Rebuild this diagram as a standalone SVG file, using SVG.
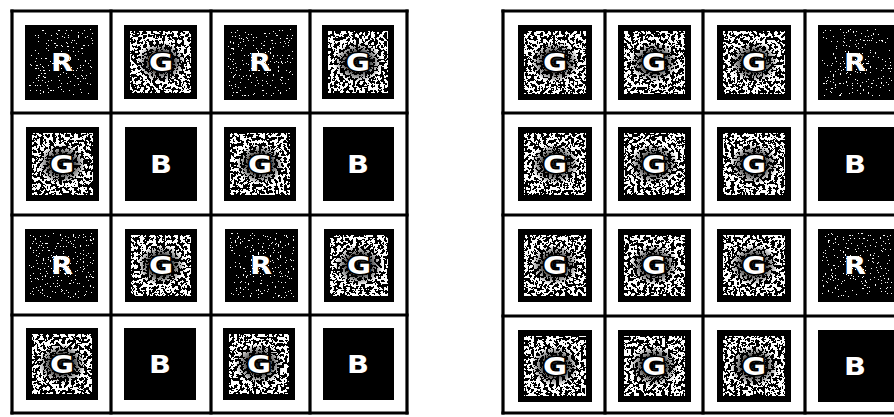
<svg xmlns="http://www.w3.org/2000/svg" width="894" height="417" viewBox="0 0 894 417">
<style>
.bg{fill:#fff}
.grid line{stroke:#000;stroke-width:3.2;stroke-linecap:square}
.blk{fill:#000}
.spk{fill:#fff;filter:url(#speck)}
.dot{fill:#fff;filter:url(#dots)}
.halo{fill:url(#haloG)}
.lt{font-family:"DejaVu Sans","Liberation Sans",sans-serif;font-weight:bold;font-size:24px;text-anchor:middle;fill:#fff}
.lg{stroke:#000;stroke-width:3;paint-order:stroke;stroke-linejoin:round}
</style>
<defs>
<filter id="speck" x="0" y="0" width="1" height="1" color-interpolation-filters="sRGB">
<feTurbulence type="fractalNoise" baseFrequency="0.32" numOctaves="3" seed="4" result="n"/>
<feColorMatrix in="n" type="matrix" values="1 0 0 0 0  1 0 0 0 0  1 0 0 0 0  0 0 0 0 1" result="g"/>
<feComponentTransfer in="g" result="t">
<feFuncR type="discrete" tableValues="0 1"/>
<feFuncG type="discrete" tableValues="0 1"/>
<feFuncB type="discrete" tableValues="0 1"/>
</feComponentTransfer>
<feComposite in="t" in2="SourceGraphic" operator="in"/>
</filter>
<filter id="dots" x="0" y="0" width="1" height="1" color-interpolation-filters="sRGB">
<feTurbulence type="fractalNoise" baseFrequency="0.6" numOctaves="2" seed="7" result="n"/>
<feColorMatrix in="n" type="matrix" values="3 0 0 0 -1.2  3 0 0 0 -1.2  3 0 0 0 -1.2  0 0 0 0 1" result="g"/>
<feComponentTransfer in="g" result="t">
<feFuncR type="discrete" tableValues="0 0 0 0 0 0 0 1"/>
<feFuncG type="discrete" tableValues="0 0 0 0 0 0 0 1"/>
<feFuncB type="discrete" tableValues="0 0 0 0 0 0 0 1"/>
</feComponentTransfer>
<feComposite in="t" in2="SourceGraphic" operator="in"/>
</filter>
<radialGradient id="haloG">
<stop offset="0" stop-color="#000" stop-opacity="0.95"/>
<stop offset="0.55" stop-color="#000" stop-opacity="0.65"/>
<stop offset="1" stop-color="#000" stop-opacity="0"/>
</radialGradient>
</defs>
<rect class="bg" x="0" y="0" width="894" height="417"/>

<g id="grid-left" class="grid">
<line x1="12" y1="11" x2="407" y2="11"/>
<line x1="12" y1="113" x2="407" y2="113"/>
<line x1="12" y1="215" x2="407" y2="215"/>
<line x1="12" y1="315" x2="407" y2="315"/>
<line x1="12" y1="413" x2="407" y2="413"/>
<line x1="12" y1="11" x2="12" y2="413"/>
<line x1="111" y1="11" x2="111" y2="413"/>
<line x1="211" y1="11" x2="211" y2="413"/>
<line x1="310" y1="11" x2="310" y2="413"/>
<line x1="407" y1="11" x2="407" y2="413"/>
</g>
<g id="grid-right" class="grid">
<line x1="503" y1="11" x2="896" y2="11"/>
<line x1="503" y1="113" x2="896" y2="113"/>
<line x1="503" y1="215" x2="896" y2="215"/>
<line x1="503" y1="316" x2="896" y2="316"/>
<line x1="503" y1="413" x2="896" y2="413"/>
<line x1="503" y1="11" x2="503" y2="413"/>
<line x1="605" y1="11" x2="605" y2="413"/>
<line x1="703" y1="11" x2="703" y2="413"/>
<line x1="805" y1="11" x2="805" y2="413"/>
</g>

<g id="L11"><rect class="blk" x="25" y="25" width="73" height="75"/><rect class="dot" x="29" y="29" width="65" height="67"/><text class="lt" x="62" y="71" textLength="22" lengthAdjust="spacingAndGlyphs">R</text></g>
<g id="L12"><rect class="blk" x="124" y="25" width="73" height="74"/><rect class="spk" x="130" y="31" width="61" height="62"/><ellipse class="halo" cx="161" cy="62" rx="24" ry="20"/><text class="lt lg" x="161" y="71" textLength="24" lengthAdjust="spacingAndGlyphs">G</text></g>
<g id="L13"><rect class="blk" x="224" y="25" width="73" height="75"/><rect class="dot" x="228" y="29" width="65" height="67"/><text class="lt" x="260" y="71" textLength="22" lengthAdjust="spacingAndGlyphs">R</text></g>
<g id="L14"><rect class="blk" x="322" y="25" width="72" height="74"/><rect class="spk" x="328" y="31" width="60" height="62"/><ellipse class="halo" cx="358" cy="62" rx="24" ry="20"/><text class="lt lg" x="358" y="71" textLength="24" lengthAdjust="spacingAndGlyphs">G</text></g>

<g id="L21"><rect class="blk" x="26" y="127" width="73" height="74"/><rect class="spk" x="32" y="133" width="61" height="62"/><ellipse class="halo" cx="62" cy="164" rx="24" ry="20"/><text class="lt lg" x="62" y="173" textLength="24" lengthAdjust="spacingAndGlyphs">G</text></g>
<g id="L22"><rect class="blk" x="125" y="127" width="72" height="74"/><text class="lt" x="161" y="173" textLength="22" lengthAdjust="spacingAndGlyphs">B</text></g>
<g id="L23"><rect class="blk" x="224" y="127" width="72" height="74"/><rect class="spk" x="230" y="133" width="60" height="62"/><ellipse class="halo" cx="260" cy="164" rx="24" ry="20"/><text class="lt lg" x="260" y="173" textLength="24" lengthAdjust="spacingAndGlyphs">G</text></g>
<g id="L24"><rect class="blk" x="323" y="127" width="71" height="74"/><text class="lt" x="358" y="173" textLength="22" lengthAdjust="spacingAndGlyphs">B</text></g>

<g id="L31"><rect class="blk" x="25" y="229" width="73" height="73"/><rect class="dot" x="29" y="233" width="65" height="65"/><text class="lt" x="62" y="274" textLength="22" lengthAdjust="spacingAndGlyphs">R</text></g>
<g id="L32"><rect class="blk" x="125" y="229" width="72" height="73"/><rect class="spk" x="131" y="235" width="60" height="61"/><ellipse class="halo" cx="161" cy="265" rx="24" ry="20"/><text class="lt lg" x="161" y="274" textLength="24" lengthAdjust="spacingAndGlyphs">G</text></g>
<g id="L33"><rect class="blk" x="225" y="229" width="73" height="73"/><rect class="dot" x="229" y="233" width="65" height="65"/><text class="lt" x="261" y="274" textLength="22" lengthAdjust="spacingAndGlyphs">R</text></g>
<g id="L34"><rect class="blk" x="324" y="229" width="70" height="73"/><rect class="spk" x="330" y="235" width="58" height="61"/><ellipse class="halo" cx="359" cy="265" rx="24" ry="20"/><text class="lt lg" x="359" y="274" textLength="24" lengthAdjust="spacingAndGlyphs">G</text></g>

<g id="L41"><rect class="blk" x="26" y="328" width="72" height="72"/><rect class="spk" x="32" y="334" width="60" height="60"/><ellipse class="halo" cx="62" cy="364" rx="24" ry="20"/><text class="lt lg" x="62" y="373" textLength="24" lengthAdjust="spacingAndGlyphs">G</text></g>
<g id="L42"><rect class="blk" x="124" y="328" width="72" height="72"/><text class="lt" x="160" y="373" textLength="22" lengthAdjust="spacingAndGlyphs">B</text></g>
<g id="L43"><rect class="blk" x="223" y="328" width="72" height="72"/><rect class="spk" x="229" y="334" width="60" height="60"/><ellipse class="halo" cx="259" cy="364" rx="24" ry="20"/><text class="lt lg" x="259" y="373" textLength="24" lengthAdjust="spacingAndGlyphs">G</text></g>
<g id="L44"><rect class="blk" x="323" y="328" width="71" height="72"/><text class="lt" x="358" y="373" textLength="22" lengthAdjust="spacingAndGlyphs">B</text></g>

<g id="R11"><rect class="blk" x="518" y="25" width="74" height="75"/><rect class="spk" x="524" y="31" width="62" height="63"/><ellipse class="halo" cx="555" cy="62" rx="24" ry="20"/><text class="lt lg" x="555" y="71" textLength="24" lengthAdjust="spacingAndGlyphs">G</text></g>
<g id="R12"><rect class="blk" x="618" y="25" width="73" height="75"/><rect class="spk" x="624" y="31" width="61" height="63"/><ellipse class="halo" cx="654" cy="62" rx="24" ry="20"/><text class="lt lg" x="654" y="71" textLength="24" lengthAdjust="spacingAndGlyphs">G</text></g>
<g id="R13"><rect class="blk" x="717" y="25" width="74" height="75"/><rect class="spk" x="723" y="31" width="62" height="63"/><ellipse class="halo" cx="754" cy="62" rx="24" ry="20"/><text class="lt lg" x="754" y="71" textLength="24" lengthAdjust="spacingAndGlyphs">G</text></g>
<g id="R14"><rect class="blk" x="818" y="25" width="78" height="75"/><rect class="dot" x="822" y="29" width="70" height="67"/><text class="lt" x="855" y="71" textLength="22" lengthAdjust="spacingAndGlyphs">R</text></g>

<g id="R21"><rect class="blk" x="518" y="127" width="74" height="74"/><rect class="spk" x="524" y="133" width="62" height="62"/><ellipse class="halo" cx="555" cy="164" rx="24" ry="20"/><text class="lt lg" x="555" y="173" textLength="24" lengthAdjust="spacingAndGlyphs">G</text></g>
<g id="R22"><rect class="blk" x="618" y="127" width="73" height="74"/><rect class="spk" x="624" y="133" width="61" height="62"/><ellipse class="halo" cx="654" cy="164" rx="24" ry="20"/><text class="lt lg" x="654" y="173" textLength="24" lengthAdjust="spacingAndGlyphs">G</text></g>
<g id="R23"><rect class="blk" x="717" y="127" width="74" height="74"/><rect class="spk" x="723" y="133" width="62" height="62"/><ellipse class="halo" cx="754" cy="164" rx="24" ry="20"/><text class="lt lg" x="754" y="173" textLength="24" lengthAdjust="spacingAndGlyphs">G</text></g>
<g id="R24"><rect class="blk" x="818" y="127" width="78" height="74"/><text class="lt" x="855" y="173" textLength="22" lengthAdjust="spacingAndGlyphs">B</text></g>

<g id="R31"><rect class="blk" x="518" y="229" width="74" height="73"/><rect class="spk" x="524" y="235" width="62" height="61"/><ellipse class="halo" cx="555" cy="265" rx="24" ry="20"/><text class="lt lg" x="555" y="274" textLength="24" lengthAdjust="spacingAndGlyphs">G</text></g>
<g id="R32"><rect class="blk" x="618" y="229" width="73" height="73"/><rect class="spk" x="624" y="235" width="61" height="61"/><ellipse class="halo" cx="654" cy="265" rx="24" ry="20"/><text class="lt lg" x="654" y="274" textLength="24" lengthAdjust="spacingAndGlyphs">G</text></g>
<g id="R33"><rect class="blk" x="717" y="229" width="74" height="73"/><rect class="spk" x="723" y="235" width="62" height="61"/><ellipse class="halo" cx="754" cy="265" rx="24" ry="20"/><text class="lt lg" x="754" y="274" textLength="24" lengthAdjust="spacingAndGlyphs">G</text></g>
<g id="R34"><rect class="blk" x="818" y="229" width="78" height="73"/><rect class="dot" x="822" y="233" width="70" height="65"/><text class="lt" x="855" y="274" textLength="22" lengthAdjust="spacingAndGlyphs">R</text></g>

<g id="R41"><rect class="blk" x="518" y="330" width="74" height="72"/><rect class="spk" x="524" y="336" width="62" height="60"/><ellipse class="halo" cx="555" cy="366" rx="24" ry="20"/><text class="lt lg" x="555" y="375" textLength="24" lengthAdjust="spacingAndGlyphs">G</text></g>
<g id="R42"><rect class="blk" x="618" y="330" width="73" height="72"/><rect class="spk" x="624" y="336" width="61" height="60"/><ellipse class="halo" cx="654" cy="366" rx="24" ry="20"/><text class="lt lg" x="654" y="375" textLength="24" lengthAdjust="spacingAndGlyphs">G</text></g>
<g id="R43"><rect class="blk" x="717" y="330" width="74" height="72"/><rect class="spk" x="723" y="336" width="62" height="60"/><ellipse class="halo" cx="754" cy="366" rx="24" ry="20"/><text class="lt lg" x="754" y="375" textLength="24" lengthAdjust="spacingAndGlyphs">G</text></g>
<g id="R44"><rect class="blk" x="818" y="330" width="78" height="72"/><text class="lt" x="855" y="375" textLength="22" lengthAdjust="spacingAndGlyphs">B</text></g>
</svg>
